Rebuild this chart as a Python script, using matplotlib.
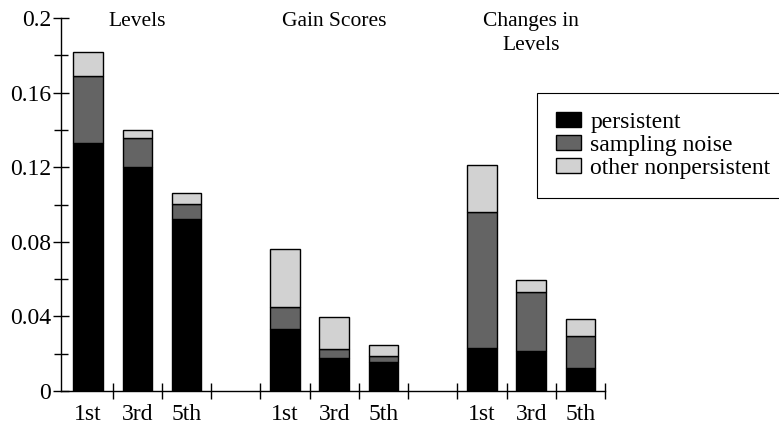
import matplotlib.pyplot as plt
import numpy as np

plt.rcParams.update({'font.family': 'Liberation Serif', 'font.size': 15.5})

# Anteile je Komponente (von unten nach oben gestapelt)
groups = ['Levels', 'Gain Scores', 'Changes in\nLevels']
grades = ['1st', '3rd', '5th']
persistent = [0.133, 0.120, 0.092,
              0.0334, 0.0179, 0.0155,
              0.0232, 0.0214, 0.0125]
sampling_noise = [0.036, 0.0155, 0.0084,
                  0.0116, 0.0048, 0.0034,
                  0.0729, 0.0315, 0.0168]
other_nonpersistent = [0.0129, 0.0042, 0.0057,
                       0.0311, 0.0170, 0.0059,
                       0.0251, 0.0065, 0.0095]

# Positionen: je Gruppe drei Balken, dazwischen eine Lücke
pos = np.array([0, 1, 2, 4, 5, 6, 8, 9, 10])
tick_labels = grades * 3

fig = plt.figure(figsize=(7.79, 4.26), dpi=100)
ax = fig.add_axes([61 / 779, 1 - 391 / 426, 544 / 779, 373 / 426])

p = np.array(persistent)
s = np.array(sampling_noise)
o = np.array(other_nonpersistent)
w = 0.6
ax.bar(pos, p, w, color='black', edgecolor='black', linewidth=1, label='persistent')
ax.bar(pos, s, w, bottom=p, color='#646464', edgecolor='black', linewidth=1, label='sampling noise')
ax.bar(pos, o, w, bottom=p + s, color='#d2d2d2', edgecolor='black', linewidth=1,
       label='other nonpersistent')

ax.set_xlim(-0.55, 10.5)
ax.set_ylim(0, 0.2)
for side in ['top', 'right']:
    ax.spines[side].set_visible(False)
for side in ['left', 'bottom']:
    ax.spines[side].set_linewidth(1)

# y-Achse: Beschriftung alle 0.04, Striche alle 0.02
ax.set_yticks([0, 0.04, 0.08, 0.12, 0.16, 0.2])
ax.set_yticklabels(['0', '0.04', '0.08', '0.12', '0.16', '0.2'], fontsize=17)
ax.set_yticks([0.02, 0.06, 0.10, 0.14, 0.18], minor=True)
ax.tick_params(axis='y', which='major', direction='inout', length=12, width=1, pad=1)
ax.tick_params(axis='y', which='minor', direction='inout', length=10, width=1)

# x-Achse: Striche zwischen den Balken, Beschriftung unter den Balken
ax.set_xticks(np.arange(0.5, 11, 1.0))
ax.set_xticklabels([])
ax.set_xticks(pos, minor=True)
ax.set_xticklabels(tick_labels, minor=True, fontsize=17)
ax.tick_params(axis='x', which='major', direction='inout', length=12, width=1)
ax.tick_params(axis='x', which='minor', length=0, pad=9)

# Gruppentitel
for x, g in zip([1, 5, 9], groups):
    ax.text(x, 0.2033, g, ha='center', va='top', linespacing=1.4, clip_on=False)

leg = fig.legend(loc='upper left', bbox_to_anchor=(537 / 779, 1 - 93 / 426),
                 borderaxespad=0, fancybox=False, edgecolor='black', framealpha=1,
                 handlelength=1.06, handleheight=0.64, handletextpad=0.4,
                 labelspacing=0.08, borderpad=0.8, fontsize=17)
leg.get_frame().set_linewidth(0.8)

fig.savefig('out.png', dpi=100)
